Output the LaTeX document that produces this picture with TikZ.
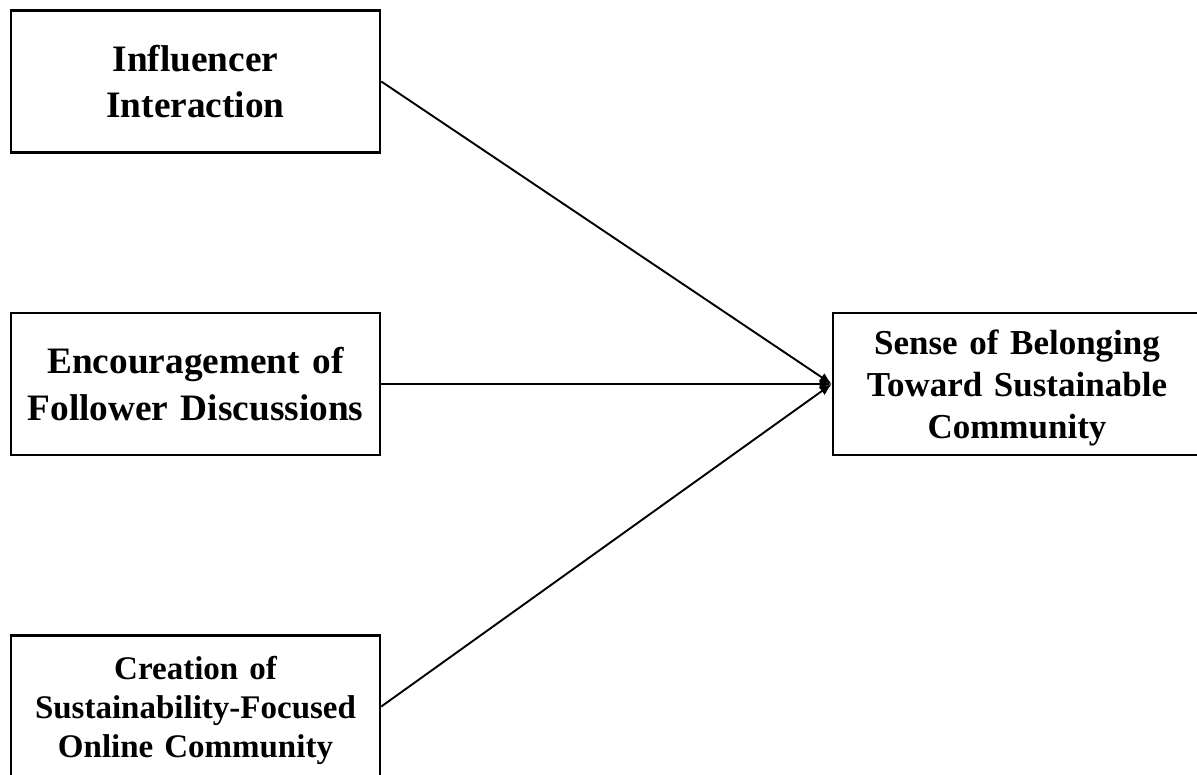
\documentclass[tikz,border=0pt]{standalone}
\usepackage{fontspec}
\setmainfont{Liberation Serif}
\usetikzlibrary{arrows.meta}
\newcommand{\nodepth}[1]{\raisebox{0pt}[\height][0pt]{#1}}
\begin{document}
\begin{tikzpicture}[x=1pt,y=-1pt,
  box/.style={draw=black, line width=2.6pt, fill=white, align=center,
    font=\bfseries, inner sep=0pt},
  srcbox/.style={box, minimum width=369pt, minimum height=142pt, text width=360pt},
  conn/.style={line width=1.9pt, -{Latex[length=12pt,width=10pt]}}]
\useasboundingbox (0,0) rectangle (1197,774);
\node[srcbox, font=\bfseries\fontsize{37.3}{45.5}\selectfont] (b1) at (195.5,81.5) {Influencer\\Interaction};
\node[srcbox, font=\bfseries\fontsize{37.3}{46.5}\selectfont] (b2) at (195.5,384) {Encouragement of\\Follower Discussions};
\node[srcbox, font=\bfseries\fontsize{33}{39}\selectfont] (b3) at (195.5,706.5) {Creation of\\Sustainability-Focused\\\nodepth{Online Community}};
\node[box, minimum width=368pt, minimum height=142pt, text width=360pt,
  font=\bfseries\fontsize{35}{41.7}\selectfont] (t) at (1017,384) {Sense of Belonging\\Toward Sustainable\\\nodepth{Community}};
\draw[conn] (b1.east) -- (t.west);
\draw[conn] (b2.east) -- (t.west);
\draw[conn] (b3.east) -- (t.west);
\end{tikzpicture}
\end{document}
